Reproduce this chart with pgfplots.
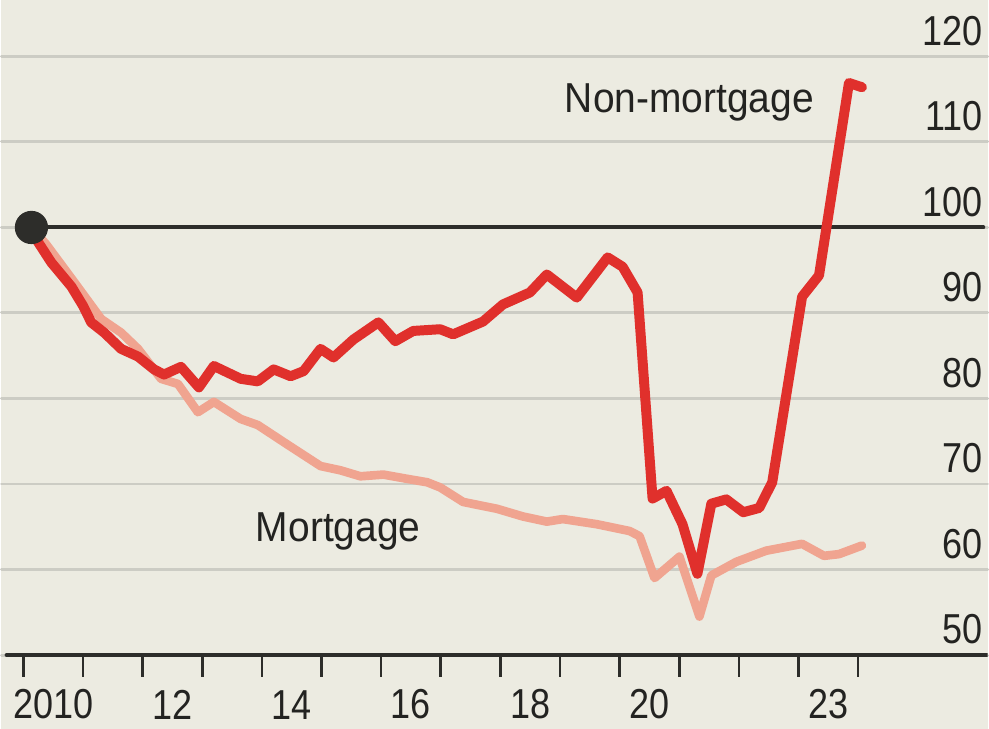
\documentclass[border=0pt]{standalone}
\usepackage{pgfplots}
\pgfplotsset{compat=1.18}
\usepackage{fontspec}
\setmainfont{Liberation Sans}
\newfontfamily\cond[FakeStretch=0.86]{Liberation Sans}
\newfontfamily\labfont[FakeStretch=0.93]{Liberation Sans}
\definecolor{bg}{RGB}{236,235,225}
\definecolor{gridc}{RGB}{204,204,196}
\definecolor{darkl}{RGB}{45,45,42}
\definecolor{redl}{RGB}{224,48,44}
\definecolor{pinkl}{RGB}{240,164,144}
\definecolor{txt}{RGB}{35,35,33}
\begin{document}
\begin{tikzpicture}
\begin{axis}[
  scale only axis,
  width=296.7pt, height=219.3pt,
  xmin=2009.632, xmax=2026.17,
  ymin=41.37, ymax=126.6,
  axis background/.style={fill=bg},
  axis line style={draw=none},
  tick style={draw=none},
  major tick length=0pt,
  ytick={50,60,70,80,90,100,110,120},
  yticklabels={50,60,70,80,90,100,110,120},
  yticklabel pos=right,
  ymajorgrids,
  grid style={gridc, line width=0.9pt},
  xtick={2010.5,2012.5,2014.5,2016.5,2018.5,2020.5,2023.5},
  xticklabels={2010,12,14,16,18,20,23},
  ticklabel style={font=\cond\fontsize{12.6}{14}\selectfont, text=txt},
  yticklabel style={anchor=south east, inner sep=0pt, xshift=-1.3pt, yshift=3pt},
  xticklabel style={anchor=south, inner sep=0pt, yshift=2.7pt},
  unbounded coords=jump,
  line join=round, line cap=round,
]
% bottom axis line and year ticks
\addplot[darkl, line width=1.3pt, forget plot] coordinates {(2009.72,50) (2026.17,50)};
\addplot[darkl, line width=0.8pt, line cap=butt, forget plot] coordinates {
(2010,50)(2010,47.4)(2010,nan)
(2011,50)(2011,47.4)(2011,nan)
(2012,50)(2012,47.4)(2012,nan)
(2013,50)(2013,47.4)(2013,nan)
(2014,50)(2014,47.4)(2014,nan)
(2015,50)(2015,47.4)(2015,nan)
(2016,50)(2016,47.4)(2016,nan)
(2017,50)(2017,47.4)(2017,nan)
(2018,50)(2018,47.4)(2018,nan)
(2019,50)(2019,47.4)(2019,nan)
(2020,50)(2020,47.4)(2020,nan)
(2021,50)(2021,47.4)(2021,nan)
(2022,50)(2022,47.4)(2022,nan)
(2023,50)(2023,47.4)(2023,nan)
(2024,50)(2024,47.4)};
% 100 reference line
\addplot[darkl, line width=1.2pt, forget plot] coordinates {(2010.134,100) (2026.10,100)};
% Mortgage
\addplot[pinkl, line width=2.6pt] coordinates {
(2010.134,100) (2010.385,98) (2010.853,93.6) (2011.304,89.3) (2011.639,87.7)
(2011.923,85.8) (2012.308,82.3) (2012.592,81.7) (2012.926,78.4) (2013.194,79.6)
(2013.645,77.6) (2013.930,76.9) (2014.431,74.6) (2014.983,72.1) (2015.318,71.6)
(2015.652,70.9) (2016.037,71.1) (2016.438,70.6) (2016.773,70.2) (2016.990,69.6)
(2017.375,67.9) (2017.943,67.1) (2018.378,66.2) (2018.779,65.6) (2019.047,65.9)
(2019.615,65.3) (2020.167,64.5) (2020.334,63.9) (2020.585,59.0) (2021.003,61.5)
(2021.338,54.5) (2021.538,59.3) (2021.957,60.9) (2022.458,62.2) (2023.060,63.0)
(2023.428,61.6) (2023.679,61.8) (2024.064,62.8)};
% Non-mortgage
\addplot[redl, line width=3.0pt] coordinates {
(2010.134,100) (2010.217,98.6) (2010.468,95.9) (2010.803,93.1) (2011.003,90.8)
(2011.137,88.9) (2011.355,87.7) (2011.639,85.8) (2011.923,84.9) (2012.191,83.4)
(2012.358,82.8) (2012.642,83.7) (2012.943,81.3) (2013.194,83.8) (2013.645,82.3)
(2013.930,82.0) (2014.197,83.4) (2014.482,82.6) (2014.699,83.2) (2014.983,85.8)
(2015.201,84.8) (2015.535,86.9) (2015.953,88.9) (2016.237,86.7) (2016.538,87.9)
(2016.990,88.1) (2017.207,87.5) (2017.709,89.0) (2018.043,91.0) (2018.495,92.4)
(2018.779,94.5) (2019.281,91.8) (2019.799,96.5) (2020.050,95.4) (2020.301,92.4)
(2020.552,68.3) (2020.786,69.2) (2021.054,65.3) (2021.304,59.5) (2021.538,67.7)
(2021.789,68.2) (2022.074,66.7) (2022.341,67.2) (2022.559,70.2) (2023.060,91.9)
(2023.344,94.4) (2023.846,116.9) (2024.064,116.4)};
% start dot
\addplot[only marks, mark=*, mark size=4.8pt, mark options={fill=darkl, draw=darkl}, forget plot] coordinates {(2010.134,100)};
\node[anchor=base, inner sep=0pt, text=txt, font=\labfont\fontsize{12.6}{14}\selectfont] at (axis cs:2021.17,113.42) {Non-mortgage};
\node[anchor=base, inner sep=0pt, text=txt, font=\labfont\fontsize{12.6}{14}\selectfont] at (axis cs:2015.28,63.24) {Mortgage};
\end{axis}
\end{tikzpicture}
\end{document}
